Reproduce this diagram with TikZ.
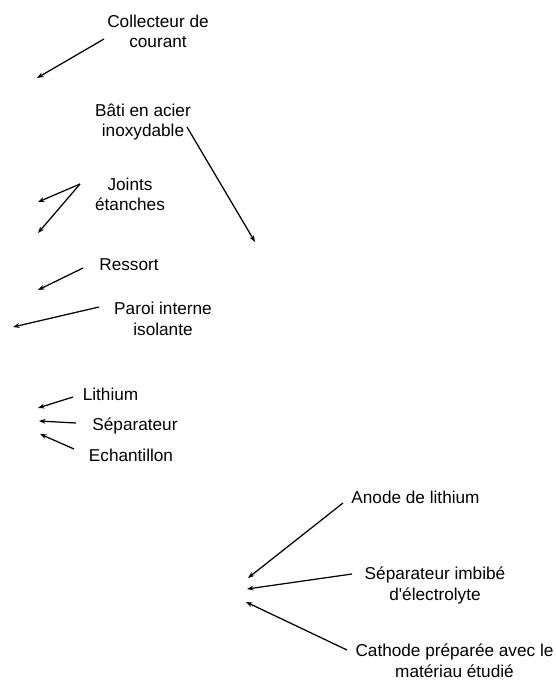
\documentclass[tikz,border=0pt]{standalone}
\usepackage{fontspec}
\setmainfont{Liberation Sans}
\usetikzlibrary{arrows.meta}
\begin{document}
\begin{tikzpicture}[x=1pt,y=-1pt,
  lbl/.style={inner sep=0pt, align=center, font=\fontsize{17.2}{20.5}\selectfont, anchor=base},
  arr/.style={-{Stealth[length=6.5pt,width=4.8pt]}, line width=1.25pt}]
\useasboundingbox (0,0) rectangle (555,680);

% labels (positioned by the baseline of their last line)
\node[lbl] (coll) at (158,47.5) {Collecteur de\\courant};
\node[lbl] (bati) at (143,136.5) {Bâti en acier\\inoxydable};
\node[lbl] (joints) at (130,210.5) {Joints\\étanches};
\node[lbl] (ressort) at (129,270) {Ressort};
\node[lbl] (paroi) at (163,335) {Paroi interne\\isolante};
\node[lbl] (lith) at (110.5,400) {Lithium};
\node[lbl] (sep) at (135,430) {Séparateur};
\node[lbl] (ech) at (131,461) {Echantillon};
\node[lbl] (anode) at (415.5,503) {Anode de lithium};
\node[lbl] (sepimb) at (435,600) {Séparateur imbibé\\d\textquotesingle électrolyte};
\node[lbl] (cath) at (454.5,677) {Cathode préparée avec le\\matériau étudié};

% arrow start / end points
\coordinate (coll-s) at (104,39);   \coordinate (coll-e) at (37,78);
\coordinate (bati-s) at (187,127);  \coordinate (bati-e) at (255,242);
\coordinate (joints-s) at (80,184); \coordinate (joints-e1) at (38,202);
\coordinate (joints-e2) at (38,233);
\coordinate (ressort-s) at (83,268); \coordinate (ressort-e) at (38,290);
\coordinate (paroi-s) at (99,307);  \coordinate (paroi-e) at (13,327);
\coordinate (lith-s) at (73,397);   \coordinate (lith-e) at (38,408);
\coordinate (sep-s) at (76,423);    \coordinate (sep-e) at (39,421);
\coordinate (ech-s) at (74,449);    \coordinate (ech-e) at (40,434);
\coordinate (anode-s) at (343,503); \coordinate (anode-e) at (248,578);
\coordinate (sepimb-s) at (352,574); \coordinate (sepimb-e) at (247,589);
\coordinate (cath-s) at (347,650);  \coordinate (cath-e) at (246,602);

\draw[arr] (coll-s) -- (coll-e);
\draw[arr] (bati-s) -- (bati-e);
\draw[arr] (joints-s) -- (joints-e1);
\draw[arr] (joints-s) -- (joints-e2);
\draw[arr] (ressort-s) -- (ressort-e);
\draw[arr] (paroi-s) -- (paroi-e);
\draw[arr] (lith-s) -- (lith-e);
\draw[arr] (sep-s) -- (sep-e);
\draw[arr] (ech-s) -- (ech-e);
\draw[arr] (anode-s) -- (anode-e);
\draw[arr] (sepimb-s) -- (sepimb-e);
\draw[arr] (cath-s) -- (cath-e);
\end{tikzpicture}
\end{document}
